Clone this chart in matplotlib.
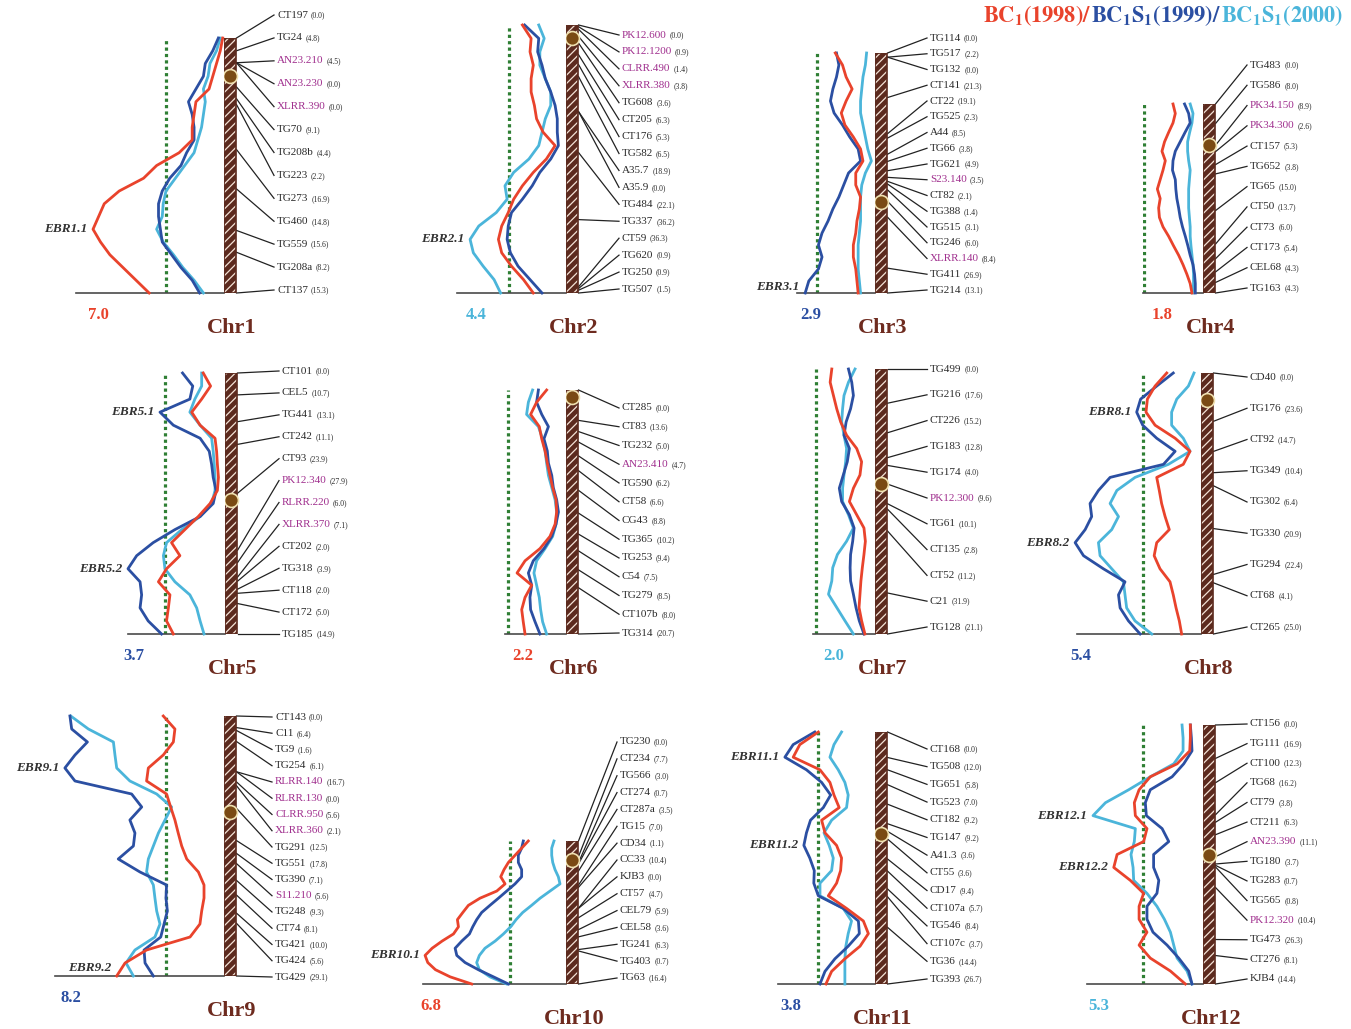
import numpy as np
import matplotlib.pyplot as plt
from matplotlib.patches import Rectangle

plt.rcParams['font.family'] = ['Liberation Serif', 'DejaVu Serif']
plt.rcParams['mathtext.fontset'] = 'stix'
plt.rcParams['hatch.linewidth'] = 0.9

W, H = 1351, 1029
RED, BLUE, CYAN = '#e9432c', '#2b4fa2', '#4bb5da'
GREEN = '#2f7f34'
BROWN = '#5c2a1e'
TITLE_C = '#6e2b1f'
PURPLE = '#a02f8e'
TXT = '#2a2a2a'

# ---- marker names and interval distances (cM) ----
chr1_markers = ['CT197', 'TG24', 'AN23.210', 'AN23.230', 'XLRR.390', 'TG70', 'TG208b', 'TG223',
                'TG273', 'TG460', 'TG559', 'TG208a', 'CT137']
chr1_dist = [0.0, 4.8, 4.5, 0.0, 0.0, 9.1, 4.4, 2.2, 16.9, 14.8, 15.6, 8.2, 15.3]
chr2_markers = ['PK12.600', 'PK12.1200', 'CLRR.490', 'XLRR.380', 'TG608', 'CT205', 'CT176', 'TG582',
                'A35.7', 'A35.9', 'TG484', 'TG337', 'CT59', 'TG620', 'TG250', 'TG507']
chr2_dist = [0.0, 0.9, 1.4, 3.8, 3.6, 6.3, 5.3, 6.5, 18.9, 0.0, 22.1, 36.2, 36.3, 0.9, 0.9, 1.5]
chr3_markers = ['TG114', 'TG517', 'TG132', 'CT141', 'CT22', 'TG525', 'A44', 'TG66', 'TG621',
                'S23.140', 'CT82', 'TG388', 'TG515', 'TG246', 'XLRR.140', 'TG411', 'TG214']
chr3_dist = [0.0, 2.2, 0.0, 21.3, 19.1, 2.3, 8.5, 3.8, 4.9, 3.5, 2.1, 1.4, 3.1, 6.0, 8.4, 26.9, 13.1]
chr4_markers = ['TG483', 'TG586', 'PK34.150', 'PK34.300', 'CT157', 'TG652', 'TG65', 'CT50', 'CT73',
                'CT173', 'CEL68', 'TG163']
chr4_dist = [0.0, 8.0, 8.9, 2.6, 5.3, 3.8, 15.0, 13.7, 6.0, 5.4, 4.3, 4.3]
chr5_markers = ['CT101', 'CEL5', 'TG441', 'CT242', 'CT93', 'PK12.340', 'RLRR.220', 'XLRR.370',
                'CT202', 'TG318', 'CT118', 'CT172', 'TG185']
chr5_dist = [0.0, 10.7, 13.1, 11.1, 23.9, 27.9, 6.0, 7.1, 2.0, 3.9, 2.0, 5.0, 14.9]
chr6_markers = ['CT285', 'CT83', 'TG232', 'AN23.410', 'TG590', 'CT58', 'CG43', 'TG365', 'TG253',
                'C54', 'TG279', 'CT107b', 'TG314']
chr6_dist = [0.0, 13.6, 5.0, 4.7, 6.2, 6.6, 8.8, 10.2, 9.4, 7.5, 8.5, 8.0, 20.7]
chr7_markers = ['TG499', 'TG216', 'CT226', 'TG183', 'TG174', 'PK12.300', 'TG61', 'CT135', 'CT52',
                'C21', 'TG128']
chr7_dist = [0.0, 17.6, 15.2, 12.8, 4.0, 9.6, 10.1, 2.8, 11.2, 31.9, 21.1]
chr8_markers = ['CD40', 'TG176', 'CT92', 'TG349', 'TG302', 'TG330', 'TG294', 'CT68', 'CT265']
chr8_dist = [0.0, 23.6, 14.7, 10.4, 6.4, 20.9, 22.4, 4.1, 25.0]
chr9_markers = ['CT143', 'C11', 'TG9', 'TG254', 'RLRR.140', 'RLRR.130', 'CLRR.950', 'XLRR.360',
                'TG291', 'TG551', 'TG390', 'S11.210', 'TG248', 'CT74', 'TG421', 'TG424', 'TG429']
chr9_dist = [0.0, 6.4, 1.6, 6.1, 16.7, 0.0, 5.6, 2.1, 12.5, 17.8, 7.1, 5.6, 9.3, 8.1, 10.0, 5.6, 29.1]
chr10_markers = ['TG230', 'CT234', 'TG566', 'CT274', 'CT287a', 'TG15', 'CD34', 'CC33', 'KJB3',
                 'CT57', 'CEL79', 'CEL58', 'TG241', 'TG403', 'TG63']
chr10_dist = [0.0, 7.7, 3.0, 0.7, 3.5, 7.0, 1.1, 10.4, 0.0, 4.7, 5.9, 3.6, 6.3, 0.7, 16.4]
chr11_markers = ['CT168', 'TG508', 'TG651', 'TG523', 'CT182', 'TG147', 'A41.3', 'CT55', 'CD17',
                 'CT107a', 'TG546', 'CT107c', 'TG36', 'TG393']
chr11_dist = [0.0, 12.0, 5.8, 7.0, 9.2, 9.2, 3.6, 3.6, 9.4, 5.7, 8.4, 3.7, 14.4, 26.7]
chr12_markers = ['CT156', 'TG111', 'CT100', 'TG68', 'CT79', 'CT211', 'AN23.390', 'TG180', 'TG283',
                 'TG565', 'PK12.320', 'TG473', 'CT276', 'KJB4']
chr12_dist = [0.0, 16.9, 12.3, 16.2, 3.8, 6.3, 11.1, 3.7, 0.7, 0.8, 10.4, 26.3, 8.1, 14.4]

purple_markers = {'AN23.210', 'AN23.230', 'XLRR.390', 'PK12.600', 'PK12.1200', 'CLRR.490',
                  'XLRR.380', 'S23.140', 'XLRR.140', 'PK34.150', 'PK34.300', 'PK12.340',
                  'RLRR.220', 'XLRR.370', 'AN23.410', 'PK12.300', 'RLRR.140', 'RLRR.130',
                  'CLRR.950', 'XLRR.360', 'S11.210', 'AN23.390', 'PK12.320'}

# ---- LOD profiles, read every 5% of chromosome length (top to bottom) ----
chr1_red = [0.07, 0.2, 0.4, 0.6, 0.8, 1.5, 1.6, 1.7, 1.7, 2.4, 3.6, 4.3, 5.6, 6.4, 6.7, 7.0, 6.6, 6.1, 5.4, 4.7, 4.0]
chr1_blue = [0.3, 0.6, 1.0, 1.1, 1.5, 1.9, 1.7, 1.6, 1.6, 2.0, 2.3, 2.9, 3.3, 3.5, 3.5, 3.4, 3.3, 2.8, 2.3, 1.7, 1.3]
chr1_cyan = [0.2, 0.4, 0.75, 0.85, 1.1, 1.0, 1.1, 1.2, 1.4, 1.6, 2.1, 2.6, 3.1, 3.25, 3.3, 3.6, 3.25, 2.7, 2.2, 1.6, 1.1]

chr2_red = [2.0, 1.6, 1.65, 1.5, 1.6, 1.6, 1.45, 1.35, 1.05, 0.5, 0.9, 1.5, 2.0, 2.4, 2.65, 2.95, 3.1, 2.95, 2.5, 1.95, 1.5]
chr2_blue = [1.9, 1.25, 1.3, 1.1, 0.95, 0.7, 0.5, 0.4, 0.4, 0.35, 0.7, 1.2, 1.55, 2.0, 2.5, 2.65, 2.7, 2.55, 2.2, 1.65, 1.1]
chr2_cyan = [1.25, 1.0, 1.2, 1.2, 0.95, 0.7, 0.7, 0.95, 1.1, 1.25, 1.7, 2.4, 2.8, 2.7, 3.2, 4.0, 4.4, 4.25, 3.8, 3.3, 3.0]

chr3_red = [1.65, 1.35, 1.2, 0.95, 1.2, 1.4, 1.25, 0.9, 0.6, 0.5, 0.8, 0.8, 0.6, 0.65, 0.75, 0.8, 0.9, 0.9, 0.8, 0.75, 0.7]
chr3_blue = [1.6, 1.5, 1.6, 1.75, 1.85, 1.7, 1.35, 1.05, 0.7, 0.6, 1.1, 1.3, 1.5, 1.75, 1.95, 2.2, 2.35, 2.2, 2.35, 2.75, 2.9]
chr3_cyan = [0.35, 0.4, 0.5, 0.55, 0.6, 0.6, 0.5, 0.4, 0.3, 0.15, 0.4, 0.55, 0.6, 0.6, 0.6, 0.65, 0.7, 0.7, 0.7, 0.65, 0.6]

chr4_red = [1.17, 1.08, 1.17, 1.34, 1.5, 1.6, 1.47, 1.56, 1.67, 1.78, 1.67, 1.73, 1.7, 1.56, 1.34, 1.15, 0.95, 0.78, 0.63, 0.5, 0.43]
chr4_blue = [0.72, 0.56, 0.5, 0.7, 0.89, 1.08, 1.17, 1.19, 1.08, 1.06, 1.02, 0.95, 0.89, 0.8, 0.69, 0.59, 0.5, 0.39, 0.33, 0.3, 0.3]
chr4_cyan = [0.5, 0.39, 0.43, 0.52, 0.6, 0.6, 0.56, 0.5, 0.53, 0.56, 0.56, 0.56, 0.53, 0.5, 0.5, 0.47, 0.43, 0.39, 0.37, 0.37, 0.39]

chr5_red = [0.83, 0.55, 0.89, 1.27, 0.95, 0.38, 0.32, 0.29, 0.25, 0.29, 0.57, 1.02, 1.53, 2.04, 1.72, 2.23, 2.54, 2.1, 2.16, 2.23, 1.97]
chr5_blue = [1.62, 1.23, 1.34, 2.48, 1.97, 0.95, 0.6, 0.51, 0.45, 0.34, 0.45, 0.95, 1.91, 2.74, 3.37, 3.7, 3.24, 3.18, 3.24, 2.93, 2.42]
chr5_cyan = [0.89, 0.89, 1.15, 1.34, 0.95, 0.51, 0.45, 0.41, 0.38, 0.38, 0.51, 0.95, 1.65, 2.23, 2.35, 2.29, 1.91, 1.34, 1.08, 0.95, 0.8]

chr6_red = [0.87, 1.32, 1.59, 1.2, 1.09, 0.94, 0.84, 0.72, 0.6, 0.45, 0.42, 0.49, 0.72, 1.17, 1.84, 2.2, 1.54, 1.84, 1.99, 1.92, 1.84]
chr6_blue = [1.24, 1.32, 1.09, 0.79, 0.99, 0.84, 0.79, 0.64, 0.57, 0.42, 0.34, 0.45, 0.64, 0.99, 1.47, 1.69, 1.54, 1.62, 1.59, 1.39, 1.17]
chr6_cyan = [1.5, 1.69, 1.77, 1.24, 1.05, 0.94, 0.87, 0.79, 0.64, 0.49, 0.42, 0.45, 0.6, 0.94, 1.32, 1.44, 1.32, 1.2, 1.14, 1.05, 0.87]

chr7_red = [1.84, 1.91, 1.77, 1.63, 1.46, 1.21, 0.78, 0.57, 0.64, 0.92, 1.09, 0.78, 0.47, 0.41, 0.47, 0.54, 0.6, 0.64, 0.68, 0.57, 0.43]
chr7_blue = [1.13, 0.99, 0.92, 1.04, 1.23, 1.32, 1.09, 1.18, 1.35, 1.52, 1.42, 1.09, 0.89, 0.95, 1.04, 1.06, 1.04, 0.92, 0.81, 0.67, 0.47]
chr7_cyan = [0.85, 1.13, 1.32, 1.38, 1.42, 1.32, 1.21, 1.25, 1.32, 1.38, 1.38, 1.13, 0.92, 1.21, 1.6, 1.8, 1.84, 1.98, 1.63, 1.28, 0.92]

chr8_red = [1.47, 1.97, 2.3, 2.36, 1.97, 1.11, 0.47, 0.76, 1.9, 1.79, 1.69, 1.54, 1.36, 1.9, 2.01, 1.76, 1.33, 1.19, 1.07, 0.93, 0.83]
chr8_blue = [1.19, 1.9, 2.59, 2.76, 2.5, 1.9, 1.11, 1.61, 3.9, 4.4, 4.76, 4.69, 4.97, 5.4, 5.04, 4.19, 3.26, 3.54, 3.47, 3.11, 2.61]
chr8_cyan = [0.3, 0.54, 1.04, 1.26, 1.26, 0.76, 0.47, 1.4, 2.83, 3.61, 3.9, 3.54, 3.83, 4.4, 4.33, 3.83, 3.33, 3.26, 3.19, 2.83, 2.11]

chr9_red = [3.13, 2.53, 2.61, 3.13, 3.9, 3.99, 2.96, 2.75, 2.53, 2.36, 2.18, 1.92, 1.32, 1.03, 1.03, 1.15, 1.24, 1.75, 3.99, 5.1, 5.53]
chr9_blue = [7.94, 7.85, 7.04, 7.68, 8.2, 7.68, 4.76, 4.24, 4.85, 4.59, 4.67, 5.45, 4.33, 2.96, 2.99, 2.92, 3.09, 3.26, 4.12, 4.07, 3.64]
chr9_cyan = [7.9, 6.99, 5.7, 5.62, 5.53, 4.85, 3.47, 2.7, 3.04, 3.38, 3.64, 3.9, 3.99, 3.64, 3.56, 3.47, 3.3, 3.56, 4.59, 5.05, 4.67]

chr10_red = [1.82, 2.14, 2.46, 2.78, 2.99, 3.15, 2.94, 3.34, 4.15, 4.71, 4.98, 5.24, 5.19, 5.43, 5.98, 6.46, 6.8, 6.67, 6.3, 5.59, 4.55]
chr10_blue = [2.06, 2.14, 2.3, 2.3, 2.14, 2.14, 2.46, 2.86, 3.26, 3.67, 4.07, 4.31, 4.5, 4.66, 5.03, 5.35, 5.27, 4.87, 4.23, 3.5, 2.78]
chr10_cyan = [0.58, 0.69, 0.69, 0.64, 0.53, 0.37, 0.29, 0.77, 1.25, 1.66, 2.09, 2.41, 2.67, 3.02, 3.42, 3.91, 4.18, 4.31, 4.18, 3.67, 2.86]

chr11_red = [2.39, 3.17, 3.45, 2.32, 1.9, 1.73, 1.51, 2.25, 2.11, 1.62, 1.41, 1.45, 1.62, 1.97, 1.2, 0.49, 0.28, 0.63, 1.27, 1.83, 2.07]
chr11_blue = [2.54, 3.45, 3.8, 2.89, 2.25, 1.87, 2.18, 2.72, 2.89, 3.0, 2.75, 2.56, 2.58, 2.39, 1.34, 0.7, 0.66, 1.13, 1.69, 2.11, 2.32]
chr11_cyan = [1.41, 1.73, 1.9, 1.55, 1.27, 1.13, 1.2, 1.83, 2.15, 1.93, 1.76, 1.83, 2.32, 2.32, 1.34, 0.99, 1.13, 1.23, 1.27, 1.27, 1.27]

chr12_red = [0.61, 0.61, 0.64, 1.25, 2.54, 3.08, 3.31, 3.26, 2.7, 2.86, 4.14, 4.3, 3.5, 2.86, 3.08, 3.08, 2.7, 3.08, 2.54, 1.57, 0.85]
chr12_blue = [0.61, 0.56, 0.53, 0.93, 1.49, 2.54, 2.78, 2.73, 1.97, 1.65, 2.38, 2.38, 2.13, 2.22, 2.7, 2.7, 2.41, 1.73, 1.17, 0.69, 0.53]
chr12_cyan = [1.01, 0.96, 0.96, 1.41, 2.54, 3.58, 4.7, 5.3, 3.26, 3.31, 3.47, 3.37, 3.34, 2.7, 2.22, 1.86, 1.57, 1.41, 1.25, 0.77, 0.53]

thresholds = [3.1, 2.6, 2.4, 2.3, 2.3, 2.6, 2.5, 2.5, 3.0, 2.7, 2.4, 2.9]
centromeres = [14.2, 7.0, 78.6, 16.8, 61.9, 3.1, 59.4, 13.1, 53.2, 9.4, 48.0, 66.0]
max_lod = [7.0, 4.4, 2.9, 1.8, 3.7, 2.2, 2.0, 5.4, 8.2, 6.8, 3.8, 5.3]
max_lod_series = ['red', 'cyan', 'blue', 'red', 'blue', 'red', 'cyan', 'blue', 'blue', 'red', 'blue', 'cyan']
# QTL name, series, sample index of the peak, vertical nudge (pt)
qtls = {1: [('EBR1.1', 'red', 15, 0)], 2: [('EBR2.1', 'cyan', 16, 0)], 3: [('EBR3.1', 'blue', 20, 4)],
        5: [('EBR5.1', 'blue', 3, 0), ('EBR5.2', 'blue', 15, 0)],
        8: [('EBR8.1', 'blue', 3, 0), ('EBR8.2', 'blue', 13, 0)],
        9: [('EBR9.1', 'blue', 4, 0), ('EBR9.2', 'red', 20, 6)], 10: [('EBR10.1', 'red', 16, 0)],
        11: [('EBR11.1', 'blue', 2, 0), ('EBR11.2', 'blue', 9, 0)],
        12: [('EBR12.1', 'cyan', 7, 0), ('EBR12.2', 'red', 11, 0)]}

# layout in pixels: baseline left, bar left, bar top, bar bottom, first label y, last label y,
# LOD at left end of baseline, label text offset from bar
layout = {1: (76, 224, 38, 293, 15, 290, 7.91, 53), 2: (457, 566, 25, 293, 35, 289, 5.0, 56),
          3: (797, 875, 53, 293, 38, 290, 3.24, 55), 4: (1143, 1203, 104, 293, 65, 288, 2.34, 47),
          5: (128, 225, 373, 634, 371, 634, 3.7, 57), 6: (505, 566, 390, 634, 408, 633, 2.74, 56),
          7: (813, 875, 369, 634, 369, 627, 2.64, 55), 8: (1077, 1201, 373, 634, 377, 627, 5.32, 49),
          9: (55, 224, 716, 976, 717, 977, 8.71, 51), 10: (423, 566, 841, 984, 742, 978, 6.9, 54),
          11: (778, 875, 732, 984, 749, 979, 4.09, 55), 12: (1087, 1203, 725, 984, 724, 979, 5.59, 47)}

fig = plt.figure(figsize=(W / 100, H / 100), dpi=100)


def px_axes(x0, y0, x1, y1):
    a = fig.add_axes([x0 / W, 1 - y1 / H, (x1 - x0) / W, (y1 - y0) / H])
    a.axis('off')
    return a


colors = {'red': RED, 'blue': BLUE, 'cyan': CYAN}
g = globals()
for n in range(1, 13):
    markers = g[f'chr{n}_markers']
    dist = g[f'chr{n}_dist']
    series = {k: np.array(g[f'chr{n}_{k}']) for k in ('red', 'blue', 'cyan')}
    x0, xb, yt, yb, lt, lb, xmax, tx = layout[n]
    pos = np.cumsum(dist)
    L = pos[-1]
    grid = np.linspace(0, L, len(series['red']))

    # LOD curves
    ax = px_axes(x0, yt, xb, yb)
    ax.set_xlim(xmax, 0)
    ax.set_ylim(L, 0)
    ax.axvline(thresholds[n - 1], color=GREEN, lw=2.3, ls=(0, (1, 1)), zorder=1)
    ax.axhline(L, color='#4a4a4a', lw=1.2, zorder=1, clip_on=False)
    for k in ('cyan', 'blue', 'red'):
        ax.plot(series[k], grid, color=colors[k], lw=2.0, clip_on=False, zorder=3,
                solid_joinstyle='round')
    for name, k, i, dy in qtls.get(n, []):
        ax.annotate(name, xy=(series[k][i], grid[i]), xytext=(-4, dy), textcoords='offset points',
                    ha='right', va='center', fontsize=9.5, fontweight='bold', fontstyle='italic',
                    color='#333333', annotation_clip=False)
    ax.annotate(f'{max_lod[n - 1]:.1f}', xy=(max_lod[n - 1], L), xytext=(4, -16),
                textcoords='offset points', ha='center', va='center', fontsize=12,
                fontweight='bold', color=colors[max_lod_series[n - 1]], annotation_clip=False)

    # chromosome bar and marker labels
    bx = px_axes(xb, yt, xb + 140, yb)
    bx.set_xlim(0, 140)
    bx.set_ylim(L, 0)
    bx.add_patch(Rectangle((0, 0), 12, L, facecolor=BROWN, edgecolor='#f3e2d6', hatch='////',
                           lw=0, zorder=2))
    bx.add_patch(Rectangle((0, 0), 12, L, fill=False, edgecolor=BROWN, lw=1.2, zorder=3))
    bx.plot(6, centromeres[n - 1], 'o', ms=10, mfc='#7a4a14', mec='#efe0b0', mew=1.2, zorder=4)
    frac = lambda y: (y - yt) / (yb - yt) * L
    lab_y = np.linspace(frac(lt), frac(lb), len(markers))
    for name, d, p, ly in zip(markers, dist, pos, lab_y):
        bx.plot([12.5, tx - 3], [p, ly], color='#222222', lw=0.9, clip_on=False, zorder=1)
        t = bx.text(tx, ly, name, fontsize=8, va='center', ha='left', clip_on=False,
                    color=PURPLE if name in purple_markers else TXT)
        bx.annotate(f'({d:.1f})', xy=(1, 0.45), xycoords=t, xytext=(2, 0),
                    textcoords='offset points', fontsize=5.5, va='center', color=TXT)
    bx.annotate(f'Chr{n}', xy=(8, L), xytext=(0, -25), textcoords='offset points', ha='center',
                va='center', fontsize=16, fontweight='bold', color=TITLE_C, annotation_clip=False)

# header with population names
ov = fig.add_axes([0, 0, 1, 1])
ov.axis('off')
ov.set_xlim(0, W)
ov.set_ylim(H, 0)
t1 = ov.text(983, 16, r'$\mathbf{BC_1(1998)/}$', color=RED, fontsize=16, va='center', ha='left')
t2 = ov.annotate(r'$\mathbf{BC_1S_1(1999)/}$', xy=(1, 0), xycoords=t1, va='bottom', ha='left',
                 color=BLUE, fontsize=16)
ov.annotate(r'$\mathbf{BC_1S_1(2000)}$', xy=(1, 0), xycoords=t2, va='bottom', ha='left',
            color=CYAN, fontsize=16)

fig.savefig('out.png', dpi=100)
